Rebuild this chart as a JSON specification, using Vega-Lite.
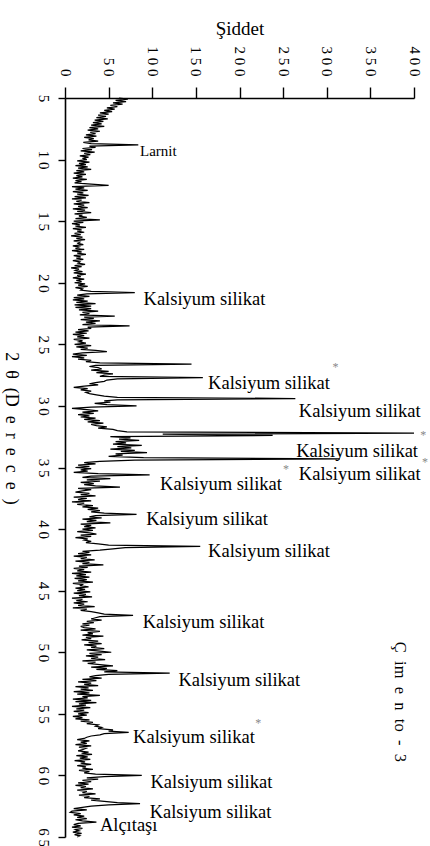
{
  "$schema": "https://vega.github.io/schema/vega-lite/v6.json",
  "width": 349,
  "height": 739,
  "autosize": "none",
  "padding": {"left": 65, "top": 98, "right": 16, "bottom": 9},
  "background": "white",
  "config": {"view": {"stroke": null}, "font": "Liberation Serif"},
  "datasets": {
    "xrd": [
      {"t":5.0,"i":62},{"t":5.1,"i":72},{"t":5.2,"i":58},{"t":5.3,"i":70},{"t":5.4,"i":55},{"t":5.5,"i":66},{"t":5.6,"i":52},{"t":5.7,"i":60},{"t":5.8,"i":48},{"t":5.9,"i":57},
      {"t":6.0,"i":45},{"t":6.1,"i":54},{"t":6.2,"i":40},{"t":6.3,"i":50},{"t":6.4,"i":38},{"t":6.5,"i":47},{"t":6.6,"i":36},{"t":6.7,"i":49},{"t":6.8,"i":34},{"t":6.9,"i":44},
      {"t":7.0,"i":32},{"t":7.1,"i":42},{"t":7.2,"i":30},{"t":7.3,"i":45},{"t":7.4,"i":28},{"t":7.5,"i":38},{"t":7.6,"i":26},{"t":7.7,"i":40},{"t":7.8,"i":29},{"t":7.9,"i":35},
      {"t":8.0,"i":24},{"t":8.1,"i":36},{"t":8.2,"i":22},{"t":8.3,"i":33},{"t":8.4,"i":27},{"t":8.5,"i":38},{"t":8.6,"i":21},{"t":8.7,"i":30},{"t":8.8,"i":84},{"t":8.9,"i":28},
      {"t":9.0,"i":35},{"t":9.1,"i":20},{"t":9.2,"i":31},{"t":9.3,"i":18},{"t":9.4,"i":34},{"t":9.5,"i":22},{"t":9.6,"i":29},{"t":9.7,"i":17},{"t":9.8,"i":27},{"t":9.9,"i":20},
      {"t":10.0,"i":25},{"t":10.1,"i":14},{"t":10.2,"i":28},{"t":10.3,"i":16},{"t":10.4,"i":24},{"t":10.5,"i":12},{"t":10.6,"i":26},{"t":10.7,"i":15},{"t":10.8,"i":30},{"t":10.9,"i":13},
      {"t":11.0,"i":22},{"t":11.1,"i":10},{"t":11.2,"i":24},{"t":11.3,"i":13},{"t":11.4,"i":20},{"t":11.5,"i":9},{"t":11.6,"i":25},{"t":11.7,"i":12},{"t":11.8,"i":19},{"t":11.9,"i":11},
      {"t":12.0,"i":30},{"t":12.1,"i":50},{"t":12.2,"i":8},{"t":12.3,"i":22},{"t":12.4,"i":12},{"t":12.5,"i":26},{"t":12.6,"i":9},{"t":12.7,"i":21},{"t":12.8,"i":14},{"t":12.9,"i":27},
      {"t":13.0,"i":11},{"t":13.1,"i":24},{"t":13.2,"i":8},{"t":13.3,"i":19},{"t":13.4,"i":13},{"t":13.5,"i":28},{"t":13.6,"i":10},{"t":13.7,"i":22},{"t":13.8,"i":15},{"t":13.9,"i":26},
      {"t":14.0,"i":9},{"t":14.1,"i":23},{"t":14.2,"i":14},{"t":14.3,"i":30},{"t":14.4,"i":11},{"t":14.5,"i":20},{"t":14.6,"i":16},{"t":14.7,"i":25},{"t":14.8,"i":12},{"t":14.9,"i":40},
      {"t":15.0,"i":10},{"t":15.1,"i":21},{"t":15.2,"i":8},{"t":15.3,"i":17},{"t":15.4,"i":12},{"t":15.5,"i":24},{"t":15.6,"i":9},{"t":15.7,"i":19},{"t":15.8,"i":14},{"t":15.9,"i":22},
      {"t":16.0,"i":11},{"t":16.1,"i":18},{"t":16.2,"i":7},{"t":16.3,"i":20},{"t":16.4,"i":13},{"t":16.5,"i":23},{"t":16.6,"i":10},{"t":16.7,"i":17},{"t":16.8,"i":15},{"t":16.9,"i":21},
      {"t":17.0,"i":9},{"t":17.1,"i":16},{"t":17.2,"i":12},{"t":17.3,"i":22},{"t":17.4,"i":8},{"t":17.5,"i":19},{"t":17.6,"i":14},{"t":17.7,"i":24},{"t":17.8,"i":10},{"t":17.9,"i":18},
      {"t":18.0,"i":13},{"t":18.1,"i":21},{"t":18.2,"i":9},{"t":18.3,"i":17},{"t":18.4,"i":15},{"t":18.5,"i":23},{"t":18.6,"i":11},{"t":18.7,"i":19},{"t":18.8,"i":7},{"t":18.9,"i":16},
      {"t":19.0,"i":12},{"t":19.1,"i":20},{"t":19.2,"i":10},{"t":19.3,"i":24},{"t":19.4,"i":14},{"t":19.5,"i":18},{"t":19.6,"i":9},{"t":19.7,"i":22},{"t":19.8,"i":13},{"t":19.9,"i":19},
      {"t":20.0,"i":11},{"t":20.1,"i":23},{"t":20.2,"i":15},{"t":20.3,"i":26},{"t":20.4,"i":12},{"t":20.5,"i":20},{"t":20.6,"i":18},{"t":20.7,"i":30},{"t":20.8,"i":80},{"t":20.9,"i":25},
      {"t":21.0,"i":14},{"t":21.1,"i":28},{"t":21.2,"i":10},{"t":21.3,"i":22},{"t":21.4,"i":9},{"t":21.5,"i":26},{"t":21.6,"i":13},{"t":21.7,"i":35},{"t":21.8,"i":11},{"t":21.9,"i":30},
      {"t":22.0,"i":12},{"t":22.1,"i":30},{"t":22.2,"i":16},{"t":22.3,"i":38},{"t":22.4,"i":20},{"t":22.5,"i":28},{"t":22.6,"i":17},{"t":22.7,"i":57},{"t":22.8,"i":22},{"t":22.9,"i":33},
      {"t":23.0,"i":18},{"t":23.1,"i":40},{"t":23.2,"i":24},{"t":23.3,"i":35},{"t":23.4,"i":20},{"t":23.5,"i":74},{"t":23.6,"i":26},{"t":23.7,"i":30},{"t":23.8,"i":15},{"t":23.9,"i":27},
      {"t":24.0,"i":12},{"t":24.1,"i":25},{"t":24.2,"i":9},{"t":24.3,"i":22},{"t":24.4,"i":14},{"t":24.5,"i":28},{"t":24.6,"i":10},{"t":24.7,"i":20},{"t":24.8,"i":16},{"t":24.9,"i":24},
      {"t":25.0,"i":11},{"t":25.1,"i":30},{"t":25.2,"i":13},{"t":25.3,"i":26},{"t":25.4,"i":18},{"t":25.5,"i":35},{"t":25.6,"i":48},{"t":25.7,"i":20},{"t":25.8,"i":9},{"t":25.9,"i":25},
      {"t":26.0,"i":8},{"t":26.1,"i":22},{"t":26.2,"i":15},{"t":26.3,"i":30},{"t":26.4,"i":24},{"t":26.5,"i":40},{"t":26.6,"i":145},{"t":26.7,"i":35},{"t":26.8,"i":28},{"t":26.9,"i":38},
      {"t":27.0,"i":42},{"t":27.1,"i":30},{"t":27.2,"i":50},{"t":27.3,"i":36},{"t":27.4,"i":55},{"t":27.5,"i":45},{"t":27.6,"i":40},{"t":27.7,"i":158},{"t":27.8,"i":60},{"t":27.9,"i":48},
      {"t":28.0,"i":45},{"t":28.1,"i":35},{"t":28.2,"i":28},{"t":28.3,"i":38},{"t":28.4,"i":22},{"t":28.5,"i":10},{"t":28.6,"i":26},{"t":28.7,"i":18},{"t":28.8,"i":30},{"t":28.9,"i":24},
      {"t":29.0,"i":28},{"t":29.1,"i":36},{"t":29.2,"i":45},{"t":29.3,"i":60},{"t":29.4,"i":264},{"t":29.5,"i":60},{"t":29.6,"i":45},{"t":29.7,"i":52},{"t":29.8,"i":34},{"t":29.9,"i":48},
      {"t":30.0,"i":82},{"t":30.1,"i":30},{"t":30.2,"i":8},{"t":30.3,"i":25},{"t":30.4,"i":38},{"t":30.5,"i":20},{"t":30.6,"i":33},{"t":30.7,"i":15},{"t":30.8,"i":28},{"t":30.9,"i":18},
      {"t":31.0,"i":35},{"t":31.1,"i":22},{"t":31.2,"i":40},{"t":31.3,"i":26},{"t":31.4,"i":44},{"t":31.5,"i":30},{"t":31.6,"i":36},{"t":31.7,"i":48},{"t":31.8,"i":38},{"t":31.9,"i":55},
      {"t":32.0,"i":60},{"t":32.1,"i":71},{"t":32.2,"i":400},{"t":32.3,"i":112},{"t":32.4,"i":238},{"t":32.5,"i":52},{"t":32.6,"i":75},{"t":32.7,"i":62},{"t":32.8,"i":85},{"t":32.9,"i":58},
      {"t":33.0,"i":70},{"t":33.1,"i":55},{"t":33.2,"i":88},{"t":33.3,"i":60},{"t":33.4,"i":76},{"t":33.5,"i":52},{"t":33.6,"i":80},{"t":33.7,"i":64},{"t":33.8,"i":94},{"t":33.9,"i":58},
      {"t":34.0,"i":66},{"t":34.1,"i":50},{"t":34.2,"i":90},{"t":34.3,"i":315},{"t":34.4,"i":80},{"t":34.5,"i":40},{"t":34.6,"i":22},{"t":34.7,"i":35},{"t":34.8,"i":15},{"t":34.9,"i":28},
      {"t":35.0,"i":12},{"t":35.1,"i":30},{"t":35.2,"i":18},{"t":35.3,"i":26},{"t":35.4,"i":10},{"t":35.5,"i":38},{"t":35.6,"i":97},{"t":35.7,"i":30},{"t":35.8,"i":20},{"t":35.9,"i":52},
      {"t":36.0,"i":25},{"t":36.1,"i":40},{"t":36.2,"i":18},{"t":36.3,"i":33},{"t":36.4,"i":22},{"t":36.5,"i":35},{"t":36.6,"i":63},{"t":36.7,"i":15},{"t":36.8,"i":30},{"t":36.9,"i":20},
      {"t":37.0,"i":12},{"t":37.1,"i":28},{"t":37.2,"i":18},{"t":37.3,"i":35},{"t":37.4,"i":10},{"t":37.5,"i":25},{"t":37.6,"i":15},{"t":37.7,"i":30},{"t":37.8,"i":8},{"t":37.9,"i":22},
      {"t":38.0,"i":14},{"t":38.1,"i":32},{"t":38.2,"i":20},{"t":38.3,"i":38},{"t":38.4,"i":26},{"t":38.5,"i":40},{"t":38.6,"i":30},{"t":38.7,"i":45},{"t":38.8,"i":82},{"t":38.9,"i":35},
      {"t":39.0,"i":28},{"t":39.1,"i":42},{"t":39.2,"i":20},{"t":39.3,"i":36},{"t":39.4,"i":25},{"t":39.5,"i":52},{"t":39.6,"i":18},{"t":39.7,"i":30},{"t":39.8,"i":22},{"t":39.9,"i":35},
      {"t":40.0,"i":20},{"t":40.1,"i":32},{"t":40.2,"i":14},{"t":40.3,"i":28},{"t":40.4,"i":36},{"t":40.5,"i":18},{"t":40.6,"i":30},{"t":40.7,"i":12},{"t":40.8,"i":26},{"t":40.9,"i":22},
      {"t":41.0,"i":30},{"t":41.1,"i":24},{"t":41.2,"i":38},{"t":41.3,"i":50},{"t":41.4,"i":155},{"t":41.5,"i":69},{"t":41.6,"i":55},{"t":41.7,"i":40},{"t":41.8,"i":20},{"t":41.9,"i":28},
      {"t":42.0,"i":15},{"t":42.1,"i":30},{"t":42.2,"i":10},{"t":42.3,"i":25},{"t":42.4,"i":18},{"t":42.5,"i":34},{"t":42.6,"i":12},{"t":42.7,"i":28},{"t":42.8,"i":20},{"t":42.9,"i":44},
      {"t":43.0,"i":16},{"t":43.1,"i":26},{"t":43.2,"i":10},{"t":43.3,"i":22},{"t":43.4,"i":14},{"t":43.5,"i":30},{"t":43.6,"i":8},{"t":43.7,"i":24},{"t":43.8,"i":13},{"t":43.9,"i":28},
      {"t":44.0,"i":11},{"t":44.1,"i":25},{"t":44.2,"i":15},{"t":44.3,"i":32},{"t":44.4,"i":9},{"t":44.5,"i":21},{"t":44.6,"i":17},{"t":44.7,"i":27},{"t":44.8,"i":12},{"t":44.9,"i":23},
      {"t":45.0,"i":14},{"t":45.1,"i":29},{"t":45.2,"i":10},{"t":45.3,"i":24},{"t":45.4,"i":16},{"t":45.5,"i":31},{"t":45.6,"i":8},{"t":45.7,"i":20},{"t":45.8,"i":13},{"t":45.9,"i":26},
      {"t":46.0,"i":10},{"t":46.1,"i":22},{"t":46.2,"i":15},{"t":46.3,"i":34},{"t":46.4,"i":9},{"t":46.5,"i":25},{"t":46.6,"i":18},{"t":46.7,"i":30},{"t":46.8,"i":38},{"t":46.9,"i":45},
      {"t":47.0,"i":78},{"t":47.1,"i":40},{"t":47.2,"i":35},{"t":47.3,"i":30},{"t":47.4,"i":42},{"t":47.5,"i":25},{"t":47.6,"i":33},{"t":47.7,"i":20},{"t":47.8,"i":28},{"t":47.9,"i":18},
      {"t":48.0,"i":22},{"t":48.1,"i":35},{"t":48.2,"i":18},{"t":48.3,"i":40},{"t":48.4,"i":26},{"t":48.5,"i":32},{"t":48.6,"i":20},{"t":48.7,"i":44},{"t":48.8,"i":24},{"t":48.9,"i":30},
      {"t":49.0,"i":19},{"t":49.1,"i":38},{"t":49.2,"i":27},{"t":49.3,"i":42},{"t":49.4,"i":22},{"t":49.5,"i":36},{"t":49.6,"i":30},{"t":49.7,"i":45},{"t":49.8,"i":25},{"t":49.9,"i":40},
      {"t":50.0,"i":53},{"t":50.1,"i":28},{"t":50.2,"i":42},{"t":50.3,"i":24},{"t":50.4,"i":38},{"t":50.5,"i":30},{"t":50.6,"i":46},{"t":50.7,"i":20},{"t":50.8,"i":35},{"t":50.9,"i":26},
      {"t":51.0,"i":40},{"t":51.1,"i":55},{"t":51.2,"i":30},{"t":51.3,"i":48},{"t":51.4,"i":36},{"t":51.5,"i":60},{"t":51.6,"i":45},{"t":51.7,"i":120},{"t":51.8,"i":50},{"t":51.9,"i":35},
      {"t":52.0,"i":28},{"t":52.1,"i":42},{"t":52.2,"i":20},{"t":52.3,"i":36},{"t":52.4,"i":15},{"t":52.5,"i":30},{"t":52.6,"i":22},{"t":52.7,"i":38},{"t":52.8,"i":12},{"t":52.9,"i":27},
      {"t":53.0,"i":18},{"t":53.1,"i":32},{"t":53.2,"i":10},{"t":53.3,"i":28},{"t":53.4,"i":14},{"t":53.5,"i":40},{"t":53.6,"i":20},{"t":53.7,"i":26},{"t":53.8,"i":9},{"t":53.9,"i":30},
      {"t":54.0,"i":12},{"t":54.1,"i":36},{"t":54.2,"i":16},{"t":54.3,"i":24},{"t":54.4,"i":8},{"t":54.5,"i":29},{"t":54.6,"i":13},{"t":54.7,"i":22},{"t":54.8,"i":10},{"t":54.9,"i":27},
      {"t":55.0,"i":15},{"t":55.1,"i":25},{"t":55.2,"i":9},{"t":55.3,"i":20},{"t":55.4,"i":12},{"t":55.5,"i":28},{"t":55.6,"i":18},{"t":55.7,"i":32},{"t":55.8,"i":25},{"t":55.9,"i":38},
      {"t":56.0,"i":35},{"t":56.1,"i":42},{"t":56.2,"i":38},{"t":56.3,"i":55},{"t":56.4,"i":50},{"t":56.5,"i":73},{"t":56.6,"i":45},{"t":56.7,"i":40},{"t":56.8,"i":30},{"t":56.9,"i":25},
      {"t":57.0,"i":22},{"t":57.1,"i":14},{"t":57.2,"i":28},{"t":57.3,"i":18},{"t":57.4,"i":25},{"t":57.5,"i":12},{"t":57.6,"i":30},{"t":57.7,"i":16},{"t":57.8,"i":24},{"t":57.9,"i":20},
      {"t":58.0,"i":15},{"t":58.1,"i":27},{"t":58.2,"i":19},{"t":58.3,"i":31},{"t":58.4,"i":13},{"t":58.5,"i":26},{"t":58.6,"i":17},{"t":58.7,"i":29},{"t":58.8,"i":11},{"t":58.9,"i":23},
      {"t":59.0,"i":18},{"t":59.1,"i":30},{"t":59.2,"i":14},{"t":59.3,"i":24},{"t":59.4,"i":20},{"t":59.5,"i":32},{"t":59.6,"i":16},{"t":59.7,"i":28},{"t":59.8,"i":22},{"t":59.9,"i":35},
      {"t":60.0,"i":88},{"t":60.1,"i":45},{"t":60.2,"i":25},{"t":60.3,"i":38},{"t":60.4,"i":20},{"t":60.5,"i":30},{"t":60.6,"i":15},{"t":60.7,"i":27},{"t":60.8,"i":12},{"t":60.9,"i":24},
      {"t":61.0,"i":18},{"t":61.1,"i":32},{"t":61.2,"i":14},{"t":61.3,"i":25},{"t":61.4,"i":20},{"t":61.5,"i":35},{"t":61.6,"i":16},{"t":61.7,"i":28},{"t":61.8,"i":22},{"t":61.9,"i":40},
      {"t":62.0,"i":30},{"t":62.1,"i":45},{"t":62.2,"i":60},{"t":62.3,"i":86},{"t":62.4,"i":50},{"t":62.5,"i":30},{"t":62.6,"i":20},{"t":62.7,"i":10},{"t":62.8,"i":25},{"t":62.9,"i":8},
      {"t":63.0,"i":6},{"t":63.1,"i":18},{"t":63.2,"i":10},{"t":63.3,"i":22},{"t":63.4,"i":14},{"t":63.5,"i":25},{"t":63.6,"i":12},{"t":63.7,"i":20},{"t":63.8,"i":36},{"t":63.9,"i":15},
      {"t":64.0,"i":10},{"t":64.1,"i":18},{"t":64.2,"i":8},{"t":64.3,"i":20},{"t":64.4,"i":12},{"t":64.5,"i":16},{"t":64.6,"i":9},{"t":64.7,"i":19},{"t":64.8,"i":11},{"t":64.9,"i":17},
      {"t":65.0,"i":14}
    ],
    "phases": [
      {"t":9.71,"i":86,"label":"Larnit"},
      {"t":21.8,"i":90,"label":"Kalsiyum silikat"},
      {"t":28.64,"i":164,"label":"Kalsiyum silikat"},
      {"t":30.87,"i":268,"label":"Kalsiyum silikat"},
      {"t":34.11,"i":265,"label":"Kalsiyum silikat"},
      {"t":36.0,"i":268,"label":"Kalsiyum silikat"},
      {"t":36.82,"i":109,"label":"Kalsiyum silikat"},
      {"t":39.66,"i":93,"label":"Kalsiyum silikat"},
      {"t":42.23,"i":164,"label":"Kalsiyum silikat"},
      {"t":48.0,"i":89,"label":"Kalsiyum silikat"},
      {"t":52.7,"i":130,"label":"Kalsiyum silikat"},
      {"t":57.38,"i":78,"label":"Kalsiyum silikat"},
      {"t":61.03,"i":98,"label":"Kalsiyum silikat"},
      {"t":63.47,"i":97,"label":"Kalsiyum silikat"},
      {"t":64.55,"i":40,"label":"Alçıtaşı"}
    ],
    "stars": [
      {"t":26.86,"i":310},
      {"t":32.35,"i":410.7},
      {"t":34.52,"i":412.6},
      {"t":35.14,"i":253.3},
      {"t":55.75,"i":221.6}
    ],
    "sample": [
      {"t":54.03,"i":384,"label":"Ç\u2002im\u2002e\u2002n\u2002to\u2002-\u20023"}
    ]
  },
  "layer": [
    {
      "data": {"name": "xrd"},
      "mark": {"type": "line", "color": "black", "strokeWidth": 1.25},
      "encoding": {
        "x": {
          "field": "i", "type": "quantitative",
          "scale": {"domain": [0, 400], "nice": false, "zero": false},
          "axis": {
            "orient": "top",
            "title": "Şiddet",
            "titleFont": "Liberation Serif", "titleFontSize": 19, "titleFontWeight": "normal", "titleColor": "black",
            "titlePadding": 8,
            "values": [0,25,50,75,100,125,150,175,200,225,250,275,300,325,350,375,400],
            "labelExpr": "datum.value % 50 === 0 ? join(split(format(datum.value, 'd'), ''), ' ') : ''",
            "labelAngle": 90, "labelAlign": "right", "labelBaseline": "middle",
            "labelFont": "Liberation Serif", "labelFontSize": 15, "labelColor": "black",
            "labelPadding": 11, "labelOverlap": false, "labelFlush": false,
            "tickSize": {"condition": {"test": "datum.value % 50 === 0", "value": 11}, "value": 6},
            "tickColor": "black", "tickWidth": 1.4,
            "domainColor": "black", "domainWidth": 1.6,
            "grid": false
          }
        },
        "y": {
          "field": "t", "type": "quantitative",
          "scale": {"domain": [5, 65], "nice": false, "zero": false, "reverse": true},
          "axis": {
            "orient": "left",
            "title": "2\u2002θ\u2002(D\u2002e\u2002r\u2002e\u2002c\u2002e\u2002)",
            "titleFont": "Liberation Serif", "titleFontSize": 18, "titleFontWeight": "normal", "titleColor": "black",
            "titleAngle": 90, "titleBaseline": "top", "titlePadding": 16, "titleY": 330,
            "values": [5,7.5,10,12.5,15,17.5,20,22.5,25,27.5,30,32.5,35,37.5,40,42.5,45,47.5,50,52.5,55,57.5,60,62.5,65],
            "labelExpr": "datum.value % 5 === 0 ? join(split(format(datum.value, 'd'), ''), ' ') : ''",
            "labelAngle": 90, "labelAlign": "center", "labelBaseline": "top",
            "labelFont": "Liberation Serif", "labelFontSize": 15, "labelColor": "black",
            "labelPadding": 8, "labelOverlap": false, "labelFlush": false,
            "tickSize": {"condition": {"test": "datum.value % 5 === 0", "value": 7}, "value": 5},
            "tickColor": "black", "tickWidth": 1.4,
            "domainColor": "black", "domainWidth": 1.6,
            "grid": false
          }
        },
        "order": {"field": "t", "type": "quantitative"}
      }
    },
    {
      "data": {"name": "phases"},
      "mark": {"type": "text", "align": "left", "baseline": "alphabetic", "font": "Liberation Serif", "color": "black"},
      "encoding": {
        "x": {"field": "i", "type": "quantitative"},
        "y": {"field": "t", "type": "quantitative"},
        "text": {"field": "label"},
        "size": {"condition": {"test": "datum.label === 'Larnit'", "value": 15}, "value": 18.5}
      }
    },
    {
      "data": {"name": "stars"},
      "mark": {"type": "text", "align": "center", "baseline": "middle", "font": "Liberation Serif", "fontSize": 12, "color": "#888888", "text": "*"},
      "encoding": {
        "x": {"field": "i", "type": "quantitative"},
        "y": {"field": "t", "type": "quantitative"}
      }
    },
    {
      "data": {"name": "sample"},
      "mark": {"type": "text", "align": "center", "baseline": "middle", "angle": 90, "font": "Liberation Serif", "fontSize": 16.5, "color": "black"},
      "encoding": {
        "x": {"field": "i", "type": "quantitative"},
        "y": {"field": "t", "type": "quantitative"},
        "text": {"field": "label"}
      }
    }
  ]
}
